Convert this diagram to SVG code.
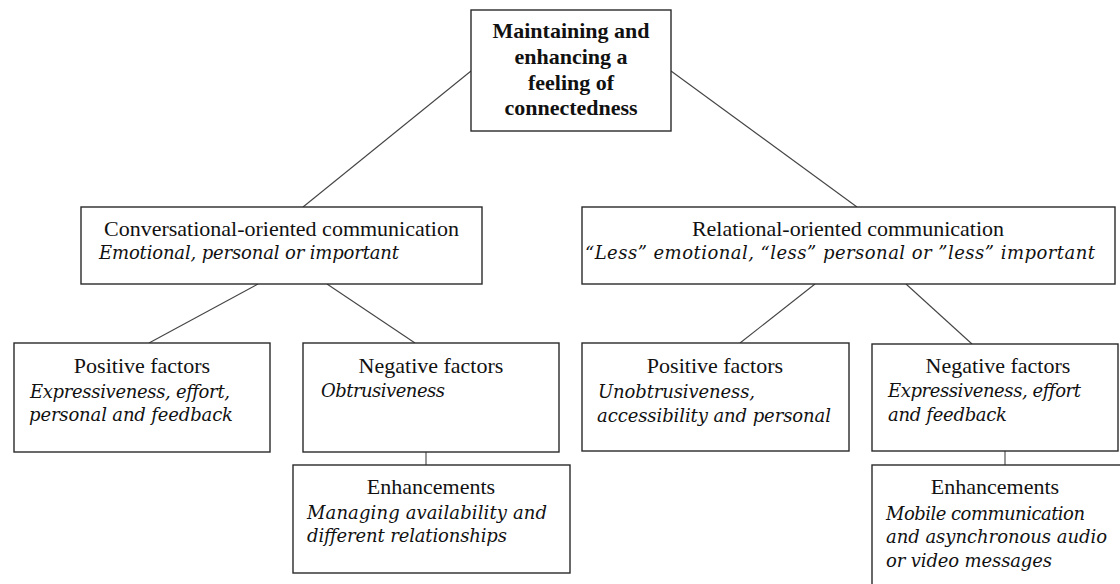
<svg xmlns="http://www.w3.org/2000/svg" width="1120" height="584" viewBox="0 0 1120 584">
<style>
.box{fill:#fff;stroke:#2a2a2a;stroke-width:1.4}
.ln{stroke:#444;stroke-width:1.1;fill:none}
.tb{font-family:"Liberation Serif","Times New Roman",serif;font-weight:bold;font-size:22px;fill:#111;text-anchor:middle}
.tt{font-family:"Liberation Serif","Times New Roman",serif;font-size:22px;fill:#111;text-anchor:middle}
.it{font-family:"DejaVu Serif",serif;font-style:italic;font-size:18px;fill:#111}
</style>
<rect width="1120" height="584" fill="#fff"/>
<g id="connectors">
<line class="ln" x1="471" y1="71" x2="303" y2="207"/>
<line class="ln" x1="671" y1="71" x2="857" y2="207"/>
<line class="ln" x1="258" y1="284" x2="149" y2="343"/>
<line class="ln" x1="327" y1="284" x2="415" y2="343"/>
<line class="ln" x1="815" y1="284" x2="740" y2="343"/>
<line class="ln" x1="906" y1="284" x2="972" y2="344"/>
<line class="ln" x1="426" y1="452" x2="426" y2="465"/>
<line class="ln" x1="1005" y1="451" x2="1005" y2="465"/>
</g>
<g id="root">
<rect class="box" x="471" y="10" width="200" height="121"/>
<text class="tb" x="571" y="38">Maintaining and</text>
<text class="tb" x="571" y="64">enhancing a</text>
<text class="tb" x="571" y="90">feeling of</text>
<text class="tb" x="571" y="115">connectedness</text>
</g>
<g id="conversational">
<rect class="box" x="81" y="207" width="401" height="77"/>
<text class="tt" x="281.5" y="236">Conversational-oriented communication</text>
<text class="it" x="99" y="259" textLength="300">Emotional, personal or important</text>
</g>
<g id="relational">
<rect class="box" x="582" y="207" width="533" height="77"/>
<text class="tt" x="848" y="236">Relational-oriented communication</text>
<text class="it" x="585" y="259" textLength="510">“Less” emotional, “less” personal or ”less” important</text>
</g>
<g id="conv-positive">
<rect class="box" x="14" y="343" width="256" height="109"/>
<text class="tt" x="142" y="373">Positive factors</text>
<text class="it" x="30" y="398" textLength="200">Expressiveness, effort,</text>
<text class="it" x="29" y="421" textLength="204">personal and feedback</text>
</g>
<g id="conv-negative">
<rect class="box" x="303" y="343" width="256" height="109"/>
<text class="tt" x="431" y="373">Negative factors</text>
<text class="it" x="321" y="397" textLength="124">Obtrusiveness</text>
</g>
<g id="conv-enhancements">
<rect class="box" x="293" y="465" width="277" height="108"/>
<text class="tt" x="431" y="494">Enhancements</text>
<text class="it" x="307" y="519" textLength="240">Managing availability and</text>
<text class="it" x="307" y="542" textLength="200">different relationships</text>
</g>
<g id="rel-positive">
<rect class="box" x="582" y="343" width="267" height="108"/>
<text class="tt" x="715" y="373">Positive factors</text>
<text class="it" x="598" y="398" textLength="157">Unobtrusiveness,</text>
<text class="it" x="597" y="422" textLength="234">accessibility and personal</text>
</g>
<g id="rel-negative">
<rect class="box" x="872" y="344" width="246" height="107"/>
<text class="tt" x="998" y="373">Negative factors</text>
<text class="it" x="888" y="397" textLength="193">Expressiveness, effort</text>
<text class="it" x="888" y="421" textLength="119">and feedback</text>
</g>
<g id="rel-enhancements">
<rect class="box" x="872" y="465" width="260" height="130"/>
<text class="tt" x="995" y="494">Enhancements</text>
<text class="it" x="886" y="520" textLength="199">Mobile communication</text>
<text class="it" x="886" y="543" textLength="221">and asynchronous audio</text>
<text class="it" x="886" y="567" textLength="166">or video messages</text>
</g>
</svg>
